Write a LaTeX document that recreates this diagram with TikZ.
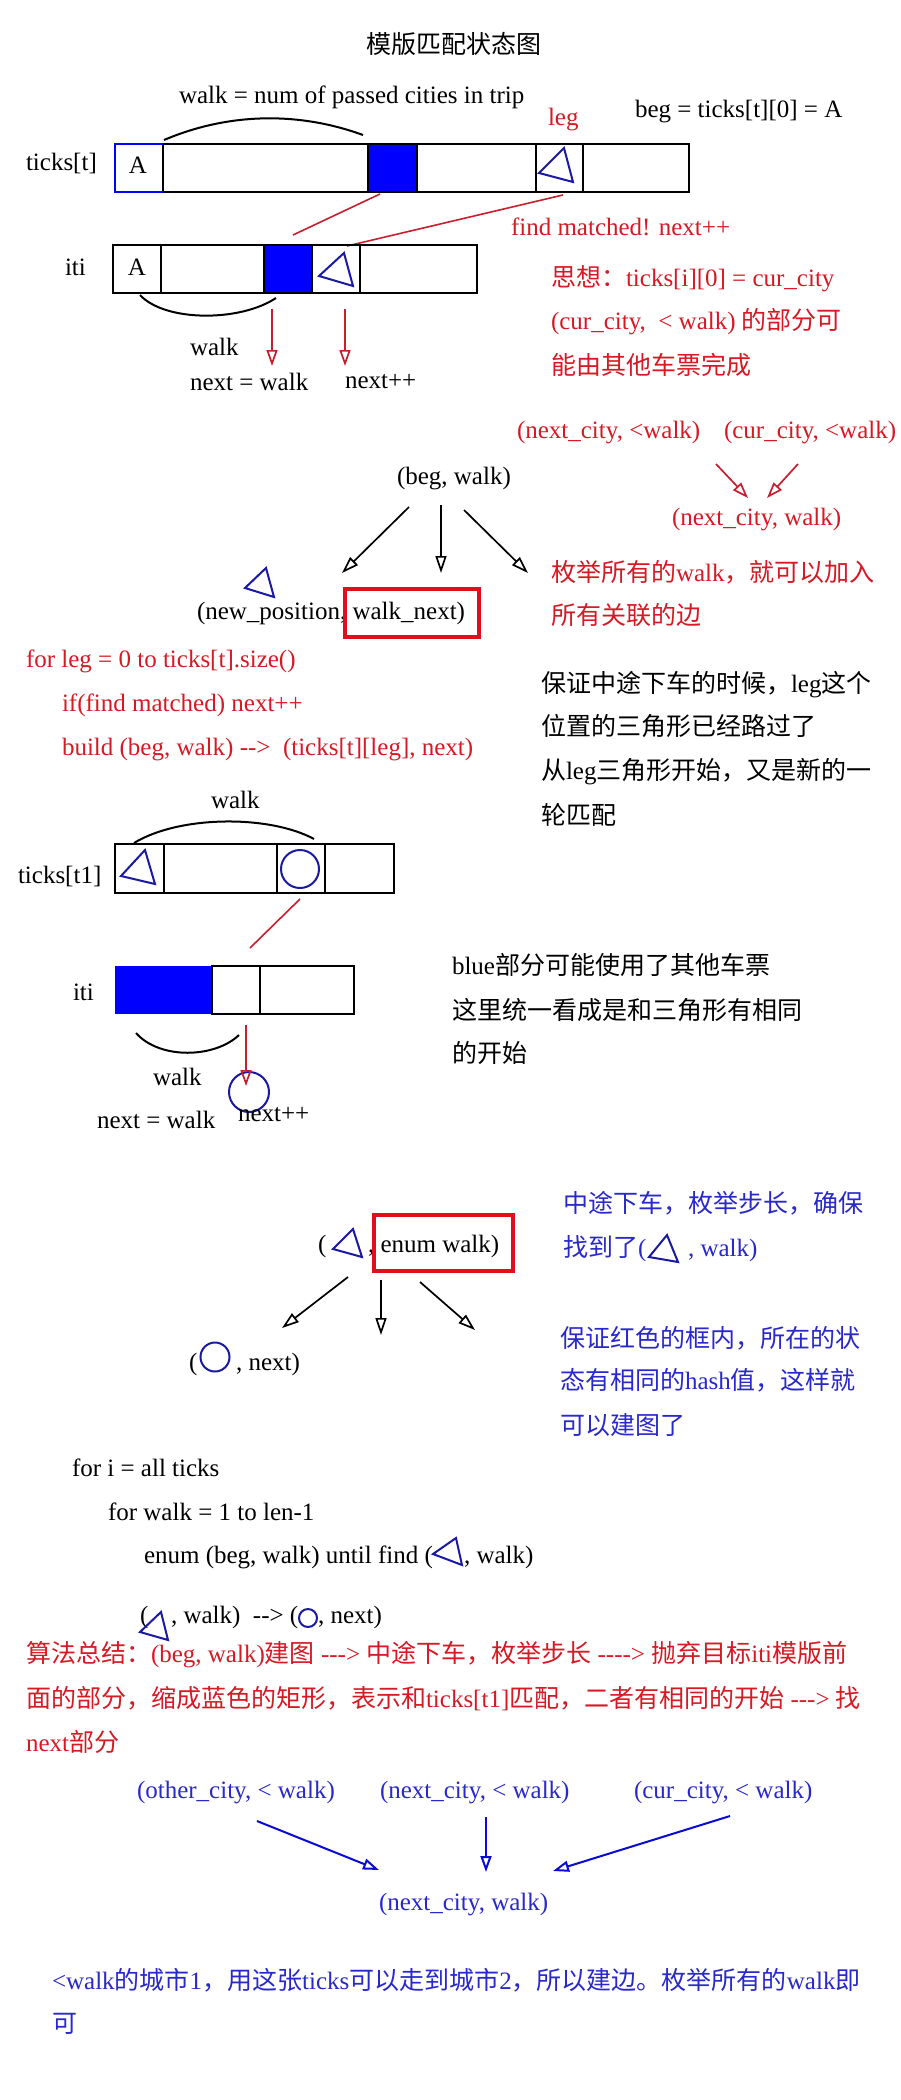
\documentclass[tikz,border=0pt]{standalone}
\usepackage{fontspec}
\setmainfont{Liberation Serif}
\newfontfamily\cjk{Noto Sans CJK SC}
\usetikzlibrary{arrows.meta}
\definecolor{rtext}{RGB}{215,25,35}
\definecolor{rline}{RGB}{200,30,45}
\definecolor{rbox}{RGB}{225,15,30}
\definecolor{bfill}{RGB}{0,0,255}
\definecolor{dblue}{RGB}{25,25,165}
\definecolor{btext}{RGB}{40,40,205}
\definecolor{barrow}{RGB}{10,10,215}
\tikzset{
  rt/.style={text=rtext},
  bt/.style={text=btext},
  cell/.style={draw=black, line width=2pt},
  tri/.style={draw=dblue, line width=2pt, line join=miter},
  ring/.style={draw=dblue, line width=2pt},
  bow/.style={draw=black, line width=2pt},
  redline/.style={draw=rline, line width=1.6pt},
  redbox/.style={draw=rbox, line width=4pt},
  karrow/.style={draw=black, line width=1.7pt, -{Triangle[open,length=17pt,width=11pt]}},
  rarrow/.style={draw=rline, line width=1.7pt, -{Triangle[open,length=16pt,width=11pt]}},
  barrowst/.style={draw=barrow, line width=2pt, -{Triangle[open,length=16pt,width=11pt]}},
}
\begin{document}
\begin{tikzpicture}[x=1pt, y=-1pt,
  every node/.style={inner sep=0pt, outer sep=0pt, anchor=base west, font=\fontsize{25}{30}\selectfont}]
\useasboundingbox (0,0) rectangle (900,2100);
\fill[white] (0,0) rectangle (900,2100);

% ---------- title ----------
\node (title) at (366,54) {\cjk 模版匹配状态图};

% ---------- section 1 ----------
\node (walkdef) at (179,104) {walk = num of passed cities in trip};
\node[rt] (leg) at (548,126) {leg};
\node (begdef) at (635,118) {beg = ticks[t][0] = A};
\draw[bow] (164,140) .. controls (230,112) and (300,112) .. (363,135);

\node (tickst) at (26,171) {ticks[t]};
\fill[bfill] (368,144) rectangle (417,192);
\draw[cell] (163,144) rectangle (689,192);
\draw[cell] (368,144)--(368,192) (417,144)--(417,192) (536,144)--(536,192) (583,144)--(583,192);
\draw[draw=bfill, line width=2pt] (163,144) -- (115,144) -- (115,192) -- (163,192);
\node[anchor=center] (A1) at (138,165) {A};
\draw[tri] (539,173) -- (564,148) -- (573,182) -- cycle;

\coordinate (l1s) at (380,194); \coordinate (l1e) at (293,235);
\coordinate (l2s) at (563,195); \coordinate (l2e) at (347,246);
\draw[redline] (l1s) -- (l1e);
\draw[redline] (l2s) -- (l2e);
\node[rt] (found) at (511,236) {find matched! next++};

\node (itil) at (65,276) {iti};
\fill[bfill] (264,245) rectangle (312,293);
\draw[cell] (113,245) rectangle (477,293);
\draw[cell] (161,245)--(161,293) (264,245)--(264,293) (312,245)--(312,293) (360,245)--(360,293);
\node[anchor=center] (A2) at (137,267) {A};
\draw[tri] (319,276) -- (344,253) -- (353,286) -- cycle;
\draw[bow] (140,295) .. controls (165,322) and (240,322) .. (276,298);

\coordinate (ra1s) at (272,309); \coordinate (ra1e) at (272,366);
\coordinate (ra2s) at (345,309); \coordinate (ra2e) at (345,366);
\draw[rarrow] (ra1s) -- (ra1e);
\draw[rarrow] (ra2s) -- (ra2e);
\node (walk1) at (190,355) {walk};
\node (nextw1) at (190,390) {next = walk};
\node (nextpp1) at (345,388) {next++};

\node[rt] (idea1) at (551,286) {{\cjk 思想：}ticks[i][0] = cur\_city};
\node[rt] (idea2) at (551,329) {(cur\_city,\ \ < walk) {\cjk 的部分可}};
\node[rt] (idea3) at (551,374) {\cjk 能由其他车票完成};

% ---------- section 2 ----------
\node[rt] (nc1) at (517,438) {(next\_city, <walk)};
\node[rt] (cc1) at (724,438) {(cur\_city, <walk)};
\coordinate (rx1s) at (716,464); \coordinate (rx1e) at (748,498);
\coordinate (rx2s) at (798,464); \coordinate (rx2e) at (767,498);
\draw[rarrow] (rx1s) -- (rx1e);
\draw[rarrow] (rx2s) -- (rx2e);
\node[rt] (ncw1) at (672,525) {(next\_city, walk)};

\node (bw) at (397,484) {(beg, walk)};
\coordinate (k1s) at (409,507); \coordinate (k1e) at (342,573);
\coordinate (k2s) at (441,505); \coordinate (k2e) at (441,573);
\coordinate (k3s) at (464,510); \coordinate (k3e) at (528,573);
\draw[karrow] (k1s) -- (k1e);
\draw[karrow] (k2s) -- (k2e);
\draw[karrow] (k3s) -- (k3e);
\draw[tri] (245,588) -- (266,568) -- (274,597) -- cycle;
\node (newpos) at (197,619) {(new\_position, walk\_next)};
\draw[redbox] (345,589) rectangle (479,637);
\node[rt] (enum1) at (551,581) {{\cjk 枚举所有的}walk{\cjk ，就可以加入}};
\node[rt] (enum2) at (551,624) {\cjk 所有关联的边};

\node[rt] (for1) at (26,667) {for leg = 0 to ticks[t].size()};
\node[rt] (for2) at (62,711) {if(find matched) next++};
\node[rt] (for3) at (62,755) {build (beg, walk) -{}-> \ (ticks[t][leg], next)};

\node (g1) at (541,692) {{\cjk 保证中途下车的时候，}leg{\cjk 这个}};
\node (g2) at (541,735) {\cjk 位置的三角形已经路过了};
\node (g3) at (541,779) {{\cjk 从}leg{\cjk 三角形开始，又是新的一}};
\node (g4) at (541,824) {\cjk 轮匹配};

% ---------- section 3 ----------
\node (walk2) at (211,808) {walk};
\draw[bow] (134,843) .. controls (180,815) and (270,815) .. (314,839);
\node (tickst1) at (18,883) {ticks[t1]};
\draw[cell] (115,844) rectangle (394,893);
\draw[cell] (164,844)--(164,893) (277,844)--(277,893) (325,844)--(325,893);
\draw[tri] (121,876) -- (145,850) -- (155,884) -- cycle;
\draw[ring] (300,869) circle[radius=19];

\coordinate (l3s) at (300,899); \coordinate (l3e) at (250,948);
\draw[redline] (l3s) -- (l3e);

\node (iti2l) at (73,1000) {iti};
\fill[bfill] (115,966) rectangle (212,1014);
\draw[cell] (212,966) rectangle (354,1014);
\draw[cell] (260,966)--(260,1014);
\draw[bow] (136,1033) .. controls (160,1060) and (215,1058) .. (239,1035);
\coordinate (ra3s) at (246,1025); \coordinate (ra3e) at (246,1086);
\draw[ring] (249,1092) circle[radius=20];
\draw[rarrow] (ra3s) -- (ra3e);
\node (walk3) at (153,1085) {walk};
\node (nextw2) at (97,1128) {next = walk};
\node (nextpp2) at (238,1121) {next++};

\node (bl1) at (452,974) {blue{\cjk 部分可能使用了其他车票}};
\node (bl2) at (452,1019) {\cjk 这里统一看成是和三角形有相同};
\node (bl3) at (452,1062) {\cjk 的开始};

% ---------- section 4 ----------
\node (ew1) at (318,1252) {(};
\draw[tri] (333,1249) -- (353,1229) -- (362,1257) -- cycle;
\node (ew2) at (368,1252) {, enum walk)};
\draw[redbox] (374,1215) rectangle (513,1271);

\coordinate (k4s) at (348,1277); \coordinate (k4e) at (282,1328);
\coordinate (k5s) at (381,1280); \coordinate (k5e) at (381,1335);
\coordinate (k6s) at (420,1282); \coordinate (k6e) at (475,1330);
\draw[karrow] (k4s) -- (k4e);
\draw[karrow] (k5s) -- (k5e);
\draw[karrow] (k6s) -- (k6e);

\node (cn1) at (189,1370) {(};
\draw[ring] (215,1357) circle[radius=14.5];
\node (cn2) at (236,1370) {, next)};

\node[bt] (m1) at (563,1212) {\cjk 中途下车，枚举步长，确保};
\node[bt] (m2) at (563,1256) {{\cjk 找到了}(};
\draw[tri] (649,1257) -- (667,1235) -- (678,1262) -- cycle;
\node[bt] (m2b) at (688,1256) {, walk)};

\node[bt] (h1) at (560,1347) {\cjk 保证红色的框内，所在的状};
\node[bt] (h2) at (560,1389) {{\cjk 态有相同的}hash{\cjk 值，这样就}};
\node[bt] (h3) at (560,1434) {\cjk 可以建图了};

\node (p1) at (72,1476) {for i = all ticks};
\node (p2) at (108,1520) {for walk = 1 to len-1};
\node (p3) at (144,1563) {enum (beg, walk) until find (};
\draw[tri] (433,1554) -- (456,1538) -- (462,1565) -- cycle;
\node (p3b) at (464,1563) {, walk)};

\node (q1) at (140,1623) {(};
\draw[tri] (140,1632) -- (161,1612) -- (168,1640) -- cycle;
\node (q2) at (171,1623) {, walk) \ -{}-> (};
\draw[ring] (308,1618) circle[radius=9];
\node (q3) at (318,1623) {, next)};

% ---------- summary ----------
\node[rt] (s1) at (26,1662) {{\cjk 算法总结：}(beg, walk){\cjk 建图} -{}-{}-> {\cjk 中途下车，枚举步长} -{}-{}-{}-> {\cjk 抛弃目标}iti{\cjk 模版前}};
\node[rt] (s2) at (26,1707) {{\cjk 面的部分，缩成蓝色的矩形，表示和}ticks[t1]{\cjk 匹配，二者有相同的开始} -{}-{}-> {\cjk 找}};
\node[rt] (s3) at (26,1751) {next{\cjk 部分}};

\node[bt] (o1) at (137,1798) {(other\_city, < walk)};
\node[bt] (o2) at (380,1798) {(next\_city, < walk)};
\node[bt] (o3) at (634,1798) {(cur\_city, < walk)};
\coordinate (b1s) at (257,1821); \coordinate (b1e) at (379,1870);
\coordinate (b2s) at (486,1817); \coordinate (b2e) at (486,1872);
\coordinate (b3s) at (730,1816); \coordinate (b3e) at (553,1871);
\draw[barrowst] (b1s) -- (b1e);
\draw[barrowst] (b2s) -- (b2e);
\draw[barrowst] (b3s) -- (b3e);
\node[bt] (o4) at (379,1910) {(next\_city, walk)};

\node[bt] (z1) at (52,1989) {<walk{\cjk 的城市}1{\cjk ，用这张}ticks{\cjk 可以走到城市}2{\cjk ，所以建边。枚举所有的}walk{\cjk 即}};
\node[bt] (z2) at (52,2032) {\cjk 可};
\end{tikzpicture}
\end{document}
